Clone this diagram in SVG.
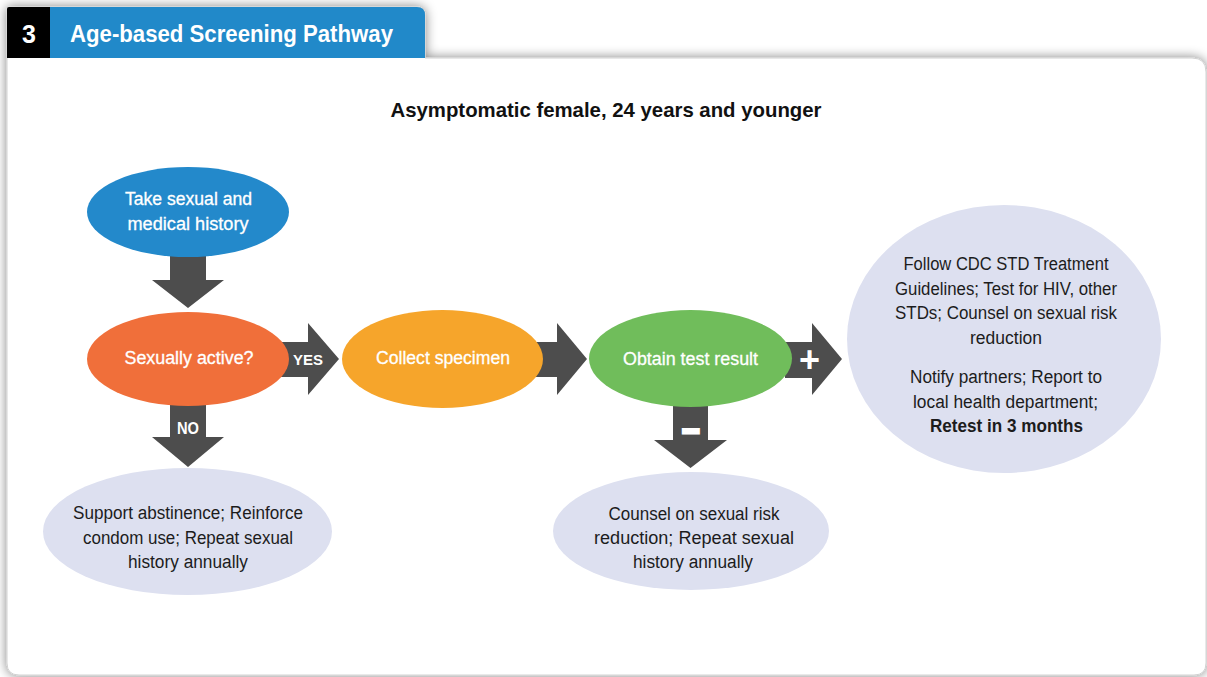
<svg xmlns="http://www.w3.org/2000/svg" width="1207" height="677" viewBox="0 0 1207 677">
  <defs>
    <filter id="shadow" x="-5%" y="-10%" width="110%" height="120%">
      <feGaussianBlur in="SourceAlpha" stdDeviation="6"/>
      <feComponentTransfer><feFuncA type="linear" slope="0.5"/></feComponentTransfer>
      <feMerge><feMergeNode/><feMergeNode in="SourceGraphic"/></feMerge>
    </filter>
    <style>
      .arrow { fill: #4d4d4d; }
      .w { font-family: "Liberation Sans", Arial, sans-serif; font-size: 18px; fill: #ffffff; text-anchor: middle; stroke: #ffffff; stroke-width: 0.3px; }
      .d { font-family: "Liberation Sans", Arial, sans-serif; font-size: 18px; fill: #1c1c1c; text-anchor: middle; }
      .lbl { font-family: "Liberation Sans", Arial, sans-serif; font-weight: bold; fill: #ffffff; text-anchor: middle; }
      .lav { fill: #dde0f0; }
    </style>
  </defs>

  <rect x="0" y="0" width="1207" height="677" fill="#ffffff"/>

  <!-- panel and tab -->
  <g id="panel">
    <path d="M7,9 Q7,7 9,7 H417 Q425,7 425,15 V58 H1192 Q1206,58 1206,72 V663 Q1206,675 1194,675 H19 Q7,675 7,663 Z" fill="#ffffff" stroke="#d2d2d2" stroke-width="1" filter="url(#shadow)"/>
    <path d="M50,7 H417 Q425,7 425,15 V58 H50 Z" fill="#2189c9"/>
    <path d="M9,7 H50 V58 H7 V9 Q7,7 9,7 Z" fill="#000000"/>
    <text x="29" y="43" font-family="Liberation Sans, Arial, sans-serif" font-weight="bold" font-size="25" fill="#ffffff" text-anchor="middle">3</text>
    <text x="70" y="42" font-family="Liberation Sans, Arial, sans-serif" font-weight="bold" font-size="24" fill="#ffffff" textLength="323" lengthAdjust="spacingAndGlyphs">Age-based Screening Pathway</text>
    <text x="606" y="117" font-family="Liberation Sans, Arial, sans-serif" font-weight="bold" font-size="21" fill="#111111" text-anchor="middle" textLength="431" lengthAdjust="spacingAndGlyphs">Asymptomatic female, 24 years and younger</text>
  </g>

  <!-- connectors -->
  <g id="connectors">
    <polygon class="arrow" points="170,250 206,250 206,280 224,280 188,308 152,280 170,280"/>
    <polygon class="arrow" points="170,400 206,400 206,437 224,437 188,467 152,437 170,437"/>
    <polygon class="arrow" points="280,342 308,342 308,323 339,359 308,395 308,377 280,377"/>
    <polygon class="arrow" points="530,342 557,342 557,323 587,359 557,395 557,377 530,377"/>
    <polygon class="arrow" points="785,342 812,342 812,323 842,359 812,395 812,378 785,378"/>
    <polygon class="arrow" points="673,400 708,400 708,440 727,440 690.5,468 654,440 673,440"/>
    <text class="lbl" x="308" y="365" font-size="15" textLength="30" lengthAdjust="spacingAndGlyphs">YES</text>
    <text class="lbl" x="188" y="434" font-size="16" textLength="22" lengthAdjust="spacingAndGlyphs">NO</text>
    <text class="lbl" x="809.5" y="372" font-size="36">+</text>
    <text class="lbl" x="691" y="441" font-size="30" stroke="#ffffff" stroke-width="3">−</text>
  </g>

  <!-- nodes -->
  <g id="node-history">
    <ellipse cx="188" cy="212" rx="101" ry="45" fill="#2389cb"/>
    <text class="w" x="188.5" y="205" textLength="127" lengthAdjust="spacingAndGlyphs">Take sexual and</text>
    <text class="w" x="188" y="230" textLength="121" lengthAdjust="spacingAndGlyphs">medical history</text>
  </g>

  <g id="node-active">
    <ellipse cx="188" cy="359" rx="101" ry="47" fill="#f06f3a"/>
    <text class="w" x="189" y="364" font-size="19" textLength="129" lengthAdjust="spacingAndGlyphs">Sexually active?</text>
  </g>

  <g id="node-collect">
    <ellipse cx="442.5" cy="359" rx="100.5" ry="49" fill="#f6a52b"/>
    <text class="w" x="443" y="364" font-size="19" textLength="134" lengthAdjust="spacingAndGlyphs">Collect specimen</text>
  </g>

  <g id="node-result">
    <ellipse cx="690.5" cy="358.5" rx="101.5" ry="48.5" fill="#70bd5b"/>
    <text class="w" x="690.5" y="365" font-size="19" textLength="135" lengthAdjust="spacingAndGlyphs">Obtain test result</text>
  </g>

  <g id="node-abstinence">
    <ellipse class="lav" cx="187.5" cy="531.5" rx="144.5" ry="63.5"/>
    <text class="d" x="188" y="519" textLength="230" lengthAdjust="spacingAndGlyphs">Support abstinence; Reinforce</text>
    <text class="d" x="188" y="544" textLength="210" lengthAdjust="spacingAndGlyphs">condom use; Repeat sexual</text>
    <text class="d" x="188" y="568" textLength="120" lengthAdjust="spacingAndGlyphs">history annually</text>
  </g>

  <g id="node-counsel">
    <ellipse class="lav" cx="691" cy="531" rx="138" ry="59"/>
    <text class="d" x="694" y="520" textLength="171" lengthAdjust="spacingAndGlyphs">Counsel on sexual risk</text>
    <text class="d" x="694" y="544" textLength="200" lengthAdjust="spacingAndGlyphs">reduction; Repeat sexual</text>
    <text class="d" x="693" y="568" textLength="120" lengthAdjust="spacingAndGlyphs">history annually</text>
  </g>

  <g id="node-treatment">
    <ellipse class="lav" cx="1004" cy="339" rx="157" ry="134"/>
    <text class="d" x="1006" y="270" textLength="205" lengthAdjust="spacingAndGlyphs">Follow CDC STD Treatment</text>
    <text class="d" x="1006" y="295" textLength="222" lengthAdjust="spacingAndGlyphs">Guidelines; Test for HIV, other</text>
    <text class="d" x="1006" y="319" textLength="222" lengthAdjust="spacingAndGlyphs">STDs; Counsel on sexual risk</text>
    <text class="d" x="1006" y="344" textLength="72" lengthAdjust="spacingAndGlyphs">reduction</text>
    <text class="d" x="1006" y="383" textLength="192" lengthAdjust="spacingAndGlyphs">Notify partners; Report to</text>
    <text class="d" x="1005.5" y="408" textLength="185" lengthAdjust="spacingAndGlyphs">local health department;</text>
    <text class="d" x="1006.5" y="432" font-weight="bold" textLength="153" lengthAdjust="spacingAndGlyphs">Retest in 3 months</text>
  </g>
</svg>
